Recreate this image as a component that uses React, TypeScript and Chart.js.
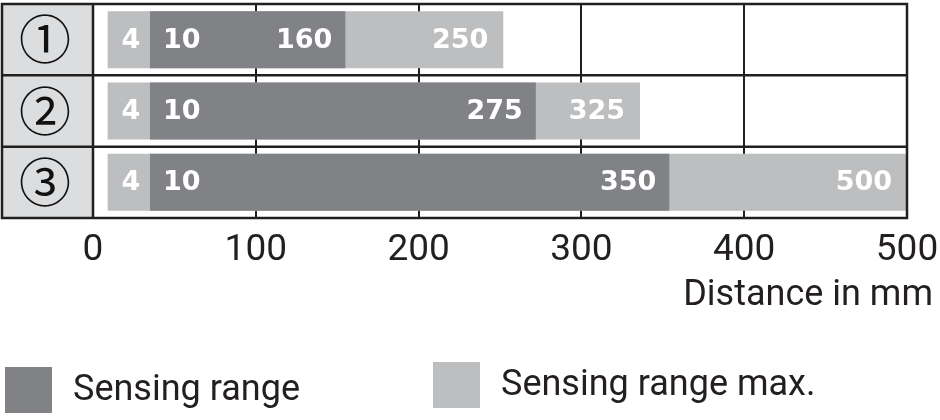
import React, { useEffect, useRef } from 'react';
import { Chart, registerables } from 'chart.js';

Chart.register(...registerables);

// ---- data ----
const rowLabels = ['①', '②', '③'];
const minLabels = ['4', '4', '4'];
const rangeStartLabels = ['10', '10', '10'];
const rangeEndLabels = ['160', '275', '350'];
const maxEndLabels = ['250', '325', '500'];
// bar extents as drawn in the picture (mm on the axis)
const maxBarStart = [9, 9, 9];
const rangeBarStart = [35, 35, 35];
const rangeBarEnd = [155, 272, 354];
const maxBarEnd = [252, 336, 500];
const xMin = 0;
const xMax = 500;
const xStep = 100;
const seriesNames = ['Sensing range', 'Sensing range max.'];
const axisTitle = 'Distance in mm';

// ---- styles ----
const DARK = '#808285';
const LIGHT = '#bdbec0';
const CELL = '#dcdddf';
const LINE = '#231f20';
const SANS = 'Roboto, "Liberation Sans", Arial, sans-serif';
const BAR_FONT = 'bold 27px "DejaVu Sans", sans-serif';

const framePlugin = {
  id: 'frame',
  beforeDraw(chart: any) {
    const { ctx, chartArea: a, scales } = chart;
    const y = scales.y;
    ctx.save();
    ctx.fillStyle = CELL;
    ctx.fillRect(y.left, a.top, a.left - y.left, a.bottom - a.top);
    ctx.restore();
  },
  afterDatasetsDraw(chart: any) {
    const { ctx, scales } = chart;
    const x = scales.x;
    const y = scales.y;
    ctx.save();
    ctx.font = BAR_FONT;
    ctx.fillStyle = '#ffffff';
    ctx.textBaseline = 'middle';
    for (let i = 0; i < rowLabels.length; i++) {
      const cy = y.getPixelForValue(i) + 1;
      const p0 = x.getPixelForValue(maxBarStart[i]);
      const p1 = x.getPixelForValue(rangeBarStart[i]);
      const p2 = x.getPixelForValue(rangeBarEnd[i]);
      const p3 = x.getPixelForValue(maxBarEnd[i]);
      ctx.textAlign = 'center';
      ctx.fillText(minLabels[i], (p0 + p1) / 2 + 2, cy);
      ctx.textAlign = 'left';
      ctx.fillText(rangeStartLabels[i], p1 + 13, cy);
      ctx.textAlign = 'right';
      ctx.fillText(rangeEndLabels[i], p2 - 13, cy);
      ctx.fillText(maxEndLabels[i], p3 - 15, cy);
    }
    ctx.restore();
  },
  afterDraw(chart: any) {
    const { ctx, chartArea: a, scales } = chart;
    const y = scales.y;
    const left = y.left;
    ctx.save();
    ctx.strokeStyle = LINE;
    ctx.lineWidth = 2.5;
    ctx.strokeRect(left, a.top, a.right - left, a.bottom - a.top);
    ctx.beginPath();
    ctx.moveTo(a.left, a.top);
    ctx.lineTo(a.left, a.bottom);
    for (let i = 0; i < rowLabels.length - 1; i++) {
      const yy = (y.getPixelForTick(i) + y.getPixelForTick(i + 1)) / 2;
      ctx.moveTo(left, yy);
      ctx.lineTo(a.right, yy);
    }
    ctx.stroke();

    // axis title
    ctx.fillStyle = LINE;
    ctx.font = '36px ' + SANS;
    ctx.textAlign = 'right';
    ctx.textBaseline = 'alphabetic';
    ctx.fillText(axisTitle, chart.width - 7, a.bottom + 87);

    // legend
    const legendX = [5, 433];
    const legendTop = [a.bottom + 149, a.bottom + 144];
    chart.data.datasets.forEach((ds: any, i: number) => {
      ctx.fillStyle = ds.backgroundColor;
      ctx.fillRect(legendX[i], legendTop[i], 47, 46);
      ctx.fillStyle = LINE;
      ctx.font = '36px ' + SANS;
      ctx.textAlign = 'left';
      ctx.fillText(ds.label, legendX[i] + 68, legendTop[i] + 33);
    });
    ctx.restore();
  },
};

export default function App() {
  const ref = useRef<HTMLCanvasElement>(null);
  useEffect(() => {
    document.body.style.margin = '0';
    const canvas = ref.current;
    if (!canvas) return;
    const chart = new Chart(canvas, {
      type: 'bar',
      data: {
        labels: rowLabels,
        datasets: [
          {
            label: seriesNames[0],
            data: rangeBarStart.map((s, i) => [s, rangeBarEnd[i]]) as any,
            backgroundColor: DARK,
            borderWidth: 0,
            grouped: false,
            barPercentage: 0.8,
            categoryPercentage: 1,
          } as any,
          {
            label: seriesNames[1],
            data: maxBarStart.map((s, i) => [s, maxBarEnd[i]]) as any,
            backgroundColor: LIGHT,
            borderWidth: 0,
            grouped: false,
            barPercentage: 0.8,
            categoryPercentage: 1,
          } as any,
        ],
      },
      options: {
        indexAxis: 'y',
        responsive: false,
        animation: false,
        devicePixelRatio: 1,
        events: [],
        layout: { padding: { left: 2, top: 4, right: 33, bottom: 92 } },
        plugins: {
          legend: { display: false },
          tooltip: { enabled: false },
          title: { display: false },
        },
        scales: {
          x: {
            type: 'linear',
            min: xMin,
            max: xMax,
            ticks: {
              stepSize: xStep,
              color: LINE,
              font: { family: SANS, size: 37 },
              padding: 11,
              maxRotation: 0,
            },
            grid: { color: LINE, lineWidth: 2, drawTicks: false },
            border: { display: false },
            afterFit: (s: any) => {
              s.height = 110;
              s.paddingLeft = 0;
              s.paddingRight = 0;
            },
          },
          y: {
            type: 'category',
            ticks: {
              color: '#111111',
              font: { family: '"Noto Sans CJK JP", "DejaVu Sans", sans-serif', size: 52, lineHeight: 1 },
              padding: 14,
              autoSkip: false,
            },
            grid: { display: false },
            border: { display: false },
            afterFit: (s: any) => {
              s.width = 91;
              s.paddingTop = 0;
              s.paddingBottom = 0;
            },
          },
        },
      } as any,
      plugins: [framePlugin],
    });
    return () => chart.destroy();
  }, []);
  return (
    <div style={{ width: 940, height: 420 }}>
      <canvas ref={ref} width={940} height={420} style={{ display: 'block' }} />
    </div>
  );
}
